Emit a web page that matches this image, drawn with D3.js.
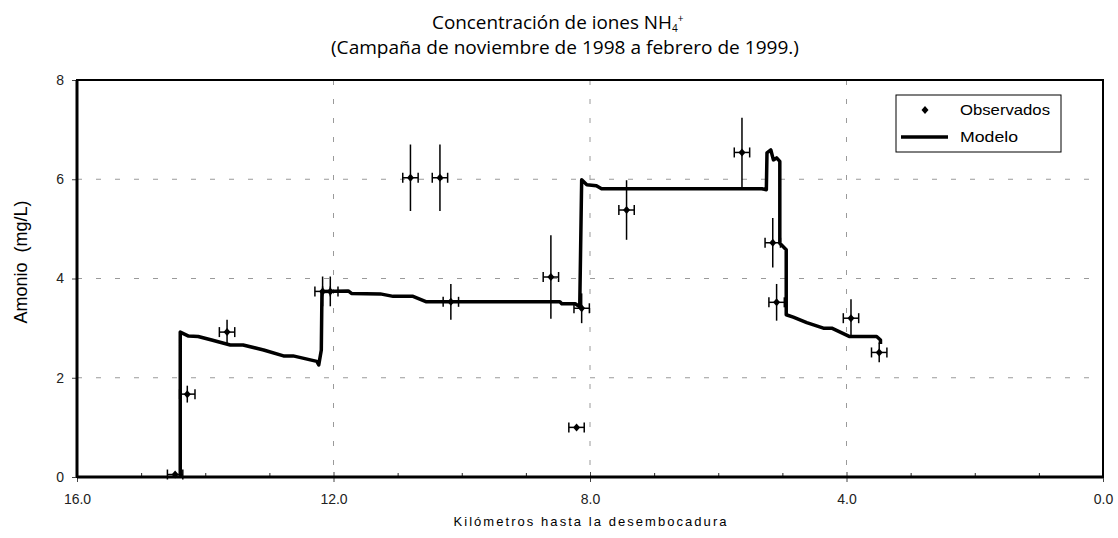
<!DOCTYPE html>
<html>
<head>
<meta charset="utf-8">
<script src="https://cdn.jsdelivr.net/npm/d3@7"></script>
<style>
  body { margin: 0; background: #fff; }
  svg { display: block; }
  .tick text { font-family: "Liberation Sans", Arial, sans-serif; font-size: 14px; fill: #222; }
</style>
</head>
<body>
<div id="chart"></div>
<script>
// Concentración de iones NH4+ - observed vs model along the river

// observed stations (km to mouth, mg/L, vertical error)
const obsKm  = [14.47, 14.28, 13.66, 12.17, 12.05, 10.80, 10.34, 10.17, 8.61, 8.21, 8.13, 7.43, 5.63, 5.15, 5.09, 3.93, 3.49];
const obsVal = [0.05, 1.67, 2.92, 3.74, 3.74, 6.03, 6.03, 3.53, 4.03, 1.00, 3.40, 5.38, 6.54, 4.72, 3.52, 3.20, 2.51];
const obsErr = [0.05, 0.17, 0.25, 0.30, 0.30, 0.67, 0.67, 0.36, 0.84, 0.05, 0.30, 0.60, 0.70, 0.50, 0.37, 0.38, 0.20];
const obsKmErr = 0.12;

// model profile
const modelKm  = [14.39, 14.39, 14.26, 14.11, 13.90, 13.61, 13.41, 13.09, 12.78, 12.63, 12.26, 12.23, 12.19, 12.18,
                  11.77, 11.72, 11.27, 11.07, 10.76, 10.55, 8.47, 8.44, 8.23, 8.16, 8.13, 8.05, 7.90, 7.82,
                  5.32, 5.25, 5.24, 5.18, 5.14, 5.09, 5.04, 5.04, 4.94, 4.94, 4.83, 4.62, 4.36, 4.23, 3.95,
                  3.53, 3.47, 3.47];
const modelVal = [0, 2.92, 2.84, 2.83, 2.76, 2.66, 2.66, 2.56, 2.44, 2.44, 2.33, 2.26, 2.56, 3.74,
                  3.75, 3.70, 3.69, 3.64, 3.64, 3.53, 3.53, 3.49, 3.49, 3.43, 5.99, 5.89, 5.87, 5.81,
                  5.81, 5.79, 6.53, 6.59, 6.39, 6.43, 6.36, 4.71, 4.58, 3.27, 3.22, 3.11, 3.00, 3.00, 2.83,
                  2.83, 2.76, 2.68];

const xMajor = [16, 12, 8, 4, 0];
const xMinor = [15, 14, 13, 11, 10, 9, 7, 6, 5, 3, 2, 1];
const yTicks = [0, 2, 4, 6, 8];
const yGrid = [2, 4, 6];

const W = 1118, H = 538;
const plotL = 77, plotR = 1103, plotT = 80, plotB = 477;

const svg = d3.select("#chart").append("svg").attr("width", W).attr("height", H);

const x = d3.scaleLinear().domain([16, 0]).range([plotL, plotR]);
const y = d3.scaleLinear().domain([0, 8]).range([plotB, plotT]);

// gridlines
svg.append("g")
  .selectAll("line")
  .data(yGrid)
  .join("line")
  .attr("x1", plotL).attr("x2", plotR)
  .attr("y1", d => y(d)).attr("y2", d => y(d))
  .attr("stroke", "#9a9a9a").attr("stroke-width", 1)
  .attr("stroke-dasharray", "5 14");

svg.append("g")
  .selectAll("line")
  .data(xMajor.slice(1, -1))
  .join("line")
  .attr("x1", d => x(d)).attr("x2", d => x(d))
  .attr("y1", plotT).attr("y2", plotB)
  .attr("stroke", "#9a9a9a").attr("stroke-width", 1)
  .attr("stroke-dasharray", "5 14");

// axes
const xAxis = svg.append("g")
  .attr("transform", `translate(0,${plotB})`)
  .call(d3.axisBottom(x).tickValues(xMajor).tickSize(5).tickPadding(12).tickFormat(d3.format(".1f")));
xAxis.select(".domain").remove();
xAxis.selectAll(".tick line").attr("y1", -5).attr("stroke", "#444");

const xMinorAxis = svg.append("g")
  .attr("transform", `translate(0,${plotB})`)
  .call(d3.axisBottom(x).tickValues(xMinor).tickSize(-4).tickFormat(""));
xMinorAxis.select(".domain").remove();
xMinorAxis.selectAll(".tick line").attr("stroke", "#222");

const yAxis = svg.append("g")
  .attr("transform", `translate(${plotL},0)`)
  .call(d3.axisLeft(y).tickValues(yTicks).tickSize(5).tickPadding(8).tickFormat(d3.format("d")));
yAxis.select(".domain").remove();
yAxis.selectAll(".tick line").attr("stroke", "#444");

// plot frame
svg.append("rect")
  .attr("x", plotL).attr("y", plotT)
  .attr("width", plotR - plotL).attr("height", plotB - plotT)
  .attr("fill", "none").attr("stroke", "#000").attr("stroke-width", 2);
svg.append("line")
  .attr("x1", plotL).attr("x2", plotR).attr("y1", plotB).attr("y2", plotB)
  .attr("stroke", "#000").attr("stroke-width", 3);
svg.append("line")
  .attr("x1", plotL).attr("x2", plotL).attr("y1", plotT).attr("y2", plotB)
  .attr("stroke", "#000").attr("stroke-width", 3);

// model line
const modelData = modelKm.map((k, i) => ({ km: k, v: modelVal[i] }));
const line = d3.line().x(d => x(d.km)).y(d => y(d.v));
svg.append("path")
  .datum(modelData)
  .attr("d", line)
  .attr("fill", "none")
  .attr("stroke", "#000")
  .attr("stroke-width", 3.5)
  .attr("stroke-linejoin", "round");

// observed points with error bars
const obs = obsKm.map((k, i) => ({ km: k, v: obsVal[i], e: obsErr[i] }));
const og = svg.append("g").attr("stroke", "#000").attr("stroke-width", 1.5);

og.selectAll(".ev").data(obs).join("line").attr("class", "ev")
  .attr("x1", d => x(d.km)).attr("x2", d => x(d.km))
  .attr("y1", d => y(d.v + d.e)).attr("y2", d => y(d.v - d.e));
og.selectAll(".eh").data(obs).join("line").attr("class", "eh")
  .attr("x1", d => x(d.km + obsKmErr)).attr("x2", d => x(d.km - obsKmErr))
  .attr("y1", d => y(d.v)).attr("y2", d => y(d.v));
og.selectAll(".capl").data(obs).join("line").attr("class", "capl")
  .attr("x1", d => x(d.km + obsKmErr)).attr("x2", d => x(d.km + obsKmErr))
  .attr("y1", d => y(d.v) - 5).attr("y2", d => y(d.v) + 5);
og.selectAll(".capr").data(obs).join("line").attr("class", "capr")
  .attr("x1", d => x(d.km - obsKmErr)).attr("x2", d => x(d.km - obsKmErr))
  .attr("y1", d => y(d.v) - 5).attr("y2", d => y(d.v) + 5);

svg.append("g").selectAll("path").data(obs).join("path")
  .attr("transform", d => `translate(${x(d.km)},${y(d.v)})`)
  .attr("d", "M0,-4L3.5,0L0,4L-3.5,0Z")
  .attr("fill", "#000");

// legend
const lg = svg.append("g");
lg.append("rect").attr("x", 896).attr("y", 95).attr("width", 165).attr("height", 57)
  .attr("fill", "#fff").attr("stroke", "#000").attr("stroke-width", 1);
lg.append("path").attr("transform", "translate(925,110)").attr("d", "M0,-4L3.5,0L0,4L-3.5,0Z").attr("fill", "#000");
lg.append("line").attr("x1", 901).attr("x2", 948).attr("y1", 137).attr("y2", 137)
  .attr("stroke", "#000").attr("stroke-width", 3.5);
lg.append("text").attr("x", 960).attr("y", 115)
  .attr("textLength", 90).attr("lengthAdjust", "spacingAndGlyphs")
  .style("font-family", "Liberation Sans, Arial, sans-serif").style("font-size", "15px")
  .text("Observados");
lg.append("text").attr("x", 960).attr("y", 142)
  .attr("textLength", 58).attr("lengthAdjust", "spacingAndGlyphs")
  .style("font-family", "Liberation Sans, Arial, sans-serif").style("font-size", "15px")
  .text("Modelo");

// titles (two lines, stretched to the reference widths)
const title = svg.append("text")
  .attr("x", 432).attr("y", 29)
  .style("font-family", "Open Sans, Noto Sans, sans-serif").style("font-size", "17.5px");
title.append("tspan").attr("textLength", 240).attr("lengthAdjust", "spacingAndGlyphs")
  .text("Concentración de iones NH");
title.append("tspan").attr("dy", 3).style("font-size", "10px").text("4");
title.append("tspan").attr("dy", -10).style("font-size", "10px").text("+");

svg.append("text")
  .attr("x", 565).attr("y", 54)
  .attr("text-anchor", "middle")
  .attr("textLength", 468).attr("lengthAdjust", "spacingAndGlyphs")
  .style("font-family", "Open Sans, Noto Sans, sans-serif").style("font-size", "17.5px")
  .text("(Campaña de noviembre de 1998 a febrero de 1999.)");

svg.append("text")
  .attr("x", (plotL + plotR) / 2).attr("y", 526)
  .attr("text-anchor", "middle")
  .attr("textLength", 273).attr("lengthAdjust", "spacing")
  .style("font-family", "Liberation Sans, Arial, sans-serif").style("font-size", "13px")
  .text("Kilómetros hasta la desembocadura");

svg.append("text")
  .attr("transform", "translate(27,262) rotate(-90)")
  .attr("text-anchor", "middle")
  .style("font-family", "Liberation Sans, Arial, sans-serif").style("font-size", "18px")
  .style("white-space", "pre")
  .text("Amonio  (mg/L)");
</script>
</body>
</html>
